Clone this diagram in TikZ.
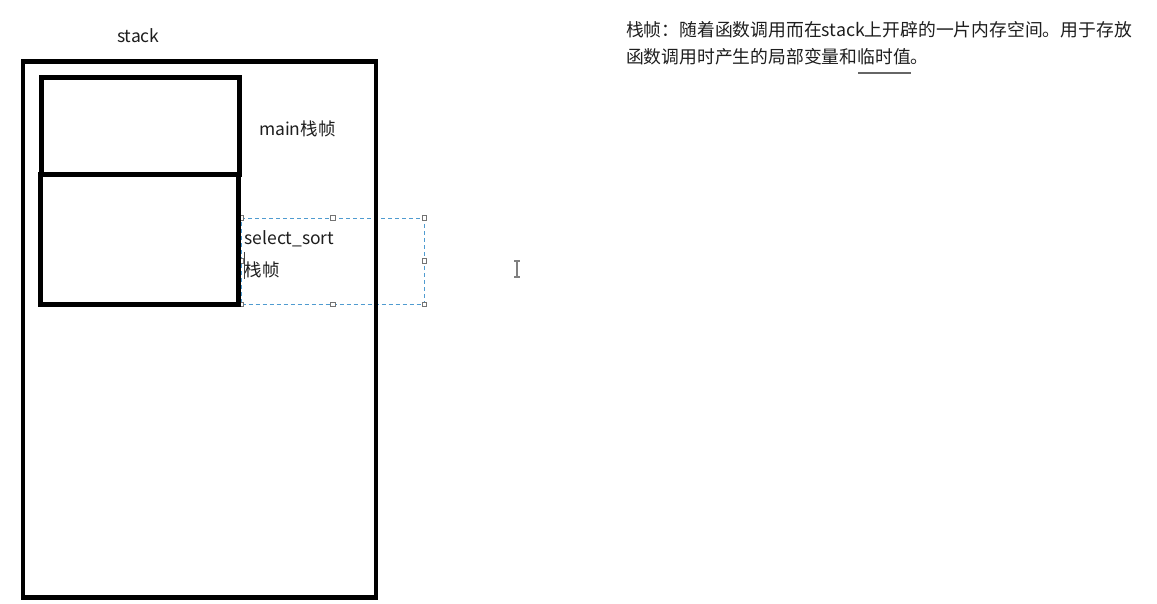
\documentclass[tikz,border=0pt]{standalone}
\usepackage{fontspec}
\setmainfont{Noto Sans CJK SC}
\definecolor{selblue}{HTML}{4F9BD0}
\definecolor{inkgray}{HTML}{1E1E1E}
\begin{document}
\begin{tikzpicture}[x=1pt,y=-1pt,
  frame/.style={draw=black, line width=4.4pt, inner sep=0pt, outer sep=0pt},
  txt/.style={inner sep=0pt, outer sep=0pt, text=inkgray, font=\fontsize{17.5}{21}\selectfont, anchor=base west},
  deftxt/.style={txt, font=\fontsize{17.8}{21}\selectfont},
  selbox/.style={draw=selblue, dash pattern=on 4pt off 3pt, line width=0.9pt, inner sep=0pt,
                 minimum width=182.5pt, minimum height=86pt},
  handle/.style={draw=black!55, fill=white, line width=0.6pt, minimum size=4.5pt, inner sep=0pt}
]
\useasboundingbox[fill=white] (0,0) rectangle (1157,603);

% selected text box with its sizing handles
\node[selbox] (tb) at (332.75,261) {};
\foreach \a/\n in {north west/nw, north/n, north east/ne, east/e,
                   south east/se, south/s, south west/sw, west/w}
  \node[handle] (h\n) at (tb.\a) {};

% stack and its frames
\node[frame, minimum width=353pt, minimum height=536pt] (stack) at (199.5,329.5) {};
\node[frame, minimum width=198pt, minimum height=97pt] (mainf) at (140.5,126) {};
\node[frame, minimum width=198pt, minimum height=130pt] (self) at (139.5,239.5) {};

% labels
\node[txt] (stacklbl) at (117,42) {stack};
\node[txt] (mainlbl) at (259,135) {main栈帧};
\node[txt] (sellbl) at (244.5,244.5) {select\_sort};
\node[txt] (selcjk) at (244.5,276) {栈帧};

% text caret inside the box
\draw[black!75, line width=1pt] (244,252) -- (244,279);

% mouse I-beam
\draw[black!50, line width=1.2pt] (517,261) -- (517,277)
  (514,261) -- (520,261) (514,277) -- (520,277);

% definition
\node[deftxt] (def1) at (626,36) {栈帧：随着函数调用而在stack上开辟的一片内存空间。用于存放};
\node[deftxt] (def2) at (626,63) {函数调用时产生的局部变量和临时值。};
\draw[black!60, line width=1.2pt] (858,73) -- (911,73);
\end{tikzpicture}
\end{document}
